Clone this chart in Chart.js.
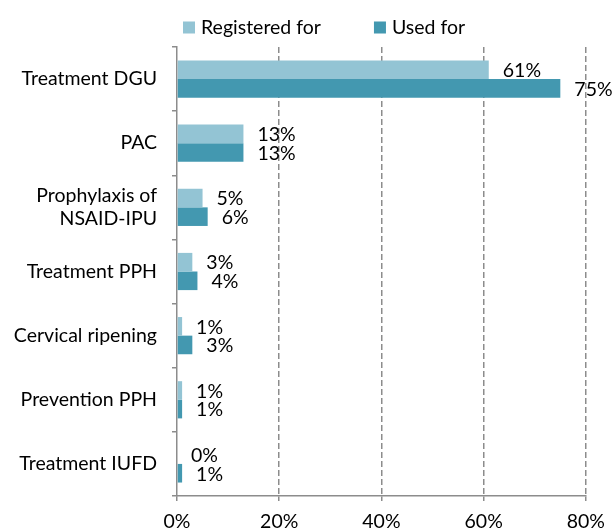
<!DOCTYPE html>
<html>
<head>
<meta charset="utf-8">
<script src="https://cdn.jsdelivr.net/npm/chart.js@4.4.1/dist/chart.umd.min.js"></script>
<style>
  html, body { margin: 0; padding: 0; background: #fff; }
  #wrap { width: 614px; height: 532px; }
</style>
</head>
<body>
<div id="wrap"><canvas id="myChart"></canvas></div>
<script>
const categories = [
    'Treatment DGU',
    'PAC',
    ['Prophylaxis of', 'NSAID-IPU'],
    'Treatment PPH',
    'Cervical ripening',
    'Prevention PPH',
    'Treatment IUFD'
];
const registeredFor = [61, 13, 5, 3, 1, 1, 0];
const usedFor = [75, 13, 6, 4, 3, 1, 1];
const xTicks = [0, 20, 40, 60, 80];
const seriesNames = ['Registered for', 'Used for'];

const FONT = 'Lato';
const FONT_SIZE = 19.5;
const AXIS_GREY = '#8c8c8c';

// value labels to the right of each bar
const barLabels = {
    id: 'barLabels',
    afterDatasetsDraw(chart) {
        const ctx = chart.ctx;
        ctx.save();
        ctx.font = `${FONT_SIZE}px ${FONT}`;
        ctx.fillStyle = '#000';
        ctx.textAlign = 'left';
        ctx.textBaseline = 'middle';
        chart.data.datasets.forEach((ds, i) => {
            const meta = chart.getDatasetMeta(i);
            meta.data.forEach((bar, j) => {
                ctx.fillText(ds.data[j] + '%', bar.x + 14, bar.y + 1);
            });
        });
        ctx.restore();
    }
};

// legend row above the plot, spaced like the original
const topLegend = {
    id: 'topLegend',
    afterDraw(chart) {
        const ctx = chart.ctx;
        const box = 12;
        const gap = 53;
        const y = 27.5;
        let x = chart.chartArea.left + 6;
        ctx.save();
        ctx.font = `${FONT_SIZE}px ${FONT}`;
        ctx.textAlign = 'left';
        ctx.textBaseline = 'middle';
        chart.data.datasets.forEach((ds) => {
            ctx.fillStyle = ds.backgroundColor;
            ctx.fillRect(x, y - box / 2, box, box);
            x += box + 6;
            ctx.fillStyle = '#000';
            ctx.fillText(ds.label, x, y);
            x += ctx.measureText(ds.label).width + gap;
        });
        ctx.restore();
    }
};

const chartData = {
    labels: categories,
    datasets: [
        {
            label: seriesNames[0],
            data: registeredFor,
            backgroundColor: '#93c4d4',
            categoryPercentage: 0.58,
            barPercentage: 1.0,
        },
        {
            label: seriesNames[1],
            data: usedFor,
            backgroundColor: '#4398b0',
            categoryPercentage: 0.58,
            barPercentage: 1.0,
        }
    ]
};

const config = {
    type: 'bar',
    data: chartData,
    plugins: [barLabels, topLegend],
    options: {
        indexAxis: 'y',
        responsive: true,
        maintainAspectRatio: false,
        animation: false,
        layout: {
            padding: { left: 0, right: 10, top: 47, bottom: 0 }
        },
        plugins: {
            legend: { display: false },
            tooltip: { enabled: false }
        },
        scales: {
            x: {
                min: 0,
                max: 80,
                afterBuildTicks: (scale) => {
                    scale.ticks = xTicks.map(v => ({ value: v }));
                },
                afterFit: (scale) => { scale.height = 36; },
                ticks: {
                    color: '#000',
                    padding: 9,
                    font: { family: FONT, size: FONT_SIZE },
                    callback: (v) => v + '%'
                },
                grid: {
                    color: (c) => c.tick && c.tick.value === 0 ? 'rgba(0,0,0,0)' : AXIS_GREY,
                    tickColor: AXIS_GREY,
                    lineWidth: 1.5,
                    tickLength: 5,
                    tickBorderDash: [],
                },
                border: {
                    color: AXIS_GREY,
                    width: 1.5,
                    dash: [6, 3]
                }
            },
            y: {
                afterFit: (scale) => { scale.width = 177; },
                ticks: {
                    color: '#000',
                    padding: 15,
                    font: { family: FONT, size: FONT_SIZE, lineHeight: 1.2 }
                },
                grid: {
                    drawOnChartArea: false,
                    offset: true,
                    tickLength: 5,
                    tickColor: AXIS_GREY,
                    lineWidth: 1.5
                },
                border: {
                    color: AXIS_GREY,
                    width: 1.5
                }
            }
        }
    }
};

const ctx = document.getElementById('myChart').getContext('2d');

if (ctx) {
    new Chart(ctx, config);
}
</script>
</body>
</html>
